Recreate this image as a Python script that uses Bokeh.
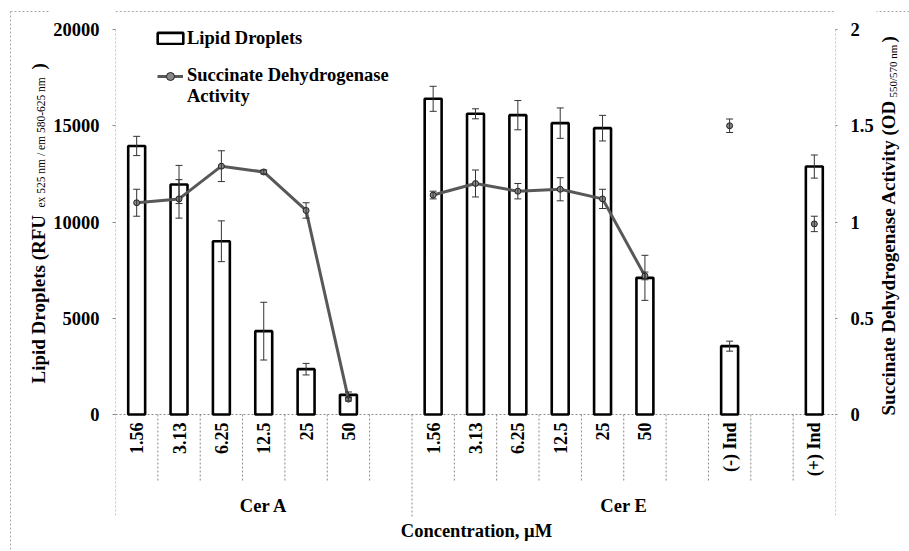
import math
import numpy as np
from bokeh.plotting import figure
from bokeh.layouts import row
from bokeh.core.properties import value
from bokeh.models import (FactorRange, Range1d, LinearAxis, FixedTicker, NumeralTickFormatter,
                          ColumnDataSource, Whisker, TeeHead, Legend, LegendItem, Label)
from bokeh.embed import file_html
from bokeh.resources import INLINE

# ---------------- data ----------------
groups = ["Cer A"] * 7 + ["Cer E"] * 10
conc = ["1.56", "3.13", "6.25", "12.5", "25", "50", "",
        "1.56", "3.13", "6.25", "12.5", "25", "50", "", "(-) Ind", " ", "(+) Ind"]
lipid = [13950, 11950, 9000, 4330, 2355, 1020, None,
         16400, 15620, 15550, 15135, 14875, 7100, None, 3550, None, 12880]
lipid_err = [500, 990, 1060, 1500, 300, 150, None,
             650, 260, 760, 790, 665, 1170, None, 260, None, 600]
sdh = [1.10, 1.12, 1.29, 1.26, 1.06, 0.08, None,
       1.14, 1.20, 1.16, 1.17, 1.12, 0.72, None, 1.50, None, 0.99]
sdh_err = [0.07, 0.10, 0.08, 0.01, 0.04, 0.01, None,
           0.02, 0.07, 0.04, 0.06, 0.05, 0.02, None, 0.035, None, 0.04]
left_ticks = [0, 5000, 10000, 15000, 20000]
right_ticks = [0, 0.5, 1, 1.5, 2]
group_names = ["Cer A", "Cer E"]
x_title = "Concentration, µM"
left_title = ["Lipid Droplets (RFU", "ex 525 nm / em 580-625 nm", ")"]
right_title = ["Succinate Dehydrogenase Activity (OD", "550/570 nm", ")"]

factors = list(zip(groups, conc))

# ---------------- layout constants (pixels) ----------------
FONT = "Liberation Serif"
W, H = 909, 551
LW, RW = 50, 33                 # side panels holding the axis titles
FL, FR, FT, FB = 115, 837, 29, 414   # plotting area edges (page pixels)
PX = (left_ticks[-1] - left_ticks[0]) / (FB - FT)   # left-axis units per pixel
K = right_ticks[-1] / left_ticks[-1]
DOT = "#8a8a8a"
BORDER_Y = 11
BORDER_X = 10

def ypx(py):
    """left-axis data value at page pixel row py"""
    return (FB - py) * PX

# ---------------- main figure ----------------
x_range = FactorRange(*factors, factor_padding=0, group_padding=0,
                      subgroup_padding=0, range_padding=0)
p = figure(x_range=x_range, y_range=Range1d(ypx(H), ypx(0)),
           width=W - LW - RW, height=H, output_backend="svg", toolbar_location=None,
           x_axis_location=None, min_border_left=FL - LW,
           min_border_right=W - RW - FR, min_border_top=0, min_border_bottom=0)
p.extra_y_ranges = {"sdh": Range1d(ypx(H) * K, ypx(0) * K)}
p.grid.visible = False
p.outline_line_color = None
p.background_fill_color = "white"
p.border_fill_color = "white"

# frame lines: axis lines, category separators, outer border
n = len(factors)
group_edges = [0] + [i for i in range(1, n) if groups[i] != groups[i - 1]] + [n]
short_edges = [i for i in range(1, n) if i not in group_edges]
p.segment(x0=[0, n], y0=[ypx(FT)] * 2, x1=[0, n], y1=[ypx(FB + 103)] * 2,
          line_color=DOT, line_width=1, line_dash="2 2")
p.segment(x0=group_edges[1:-1], y0=[0] * (len(group_edges) - 2), x1=group_edges[1:-1],
          y1=[ypx(FB + 102)] * (len(group_edges) - 2), line_color=DOT, line_width=1,
          line_dash="2 2")
p.segment(x0=short_edges, y0=[0] * len(short_edges), x1=short_edges,
          y1=[ypx(FB + 68)] * len(short_edges), line_color=DOT, line_width=1,
          line_dash="2 2")
p.segment(x0=[0], y0=[0], x1=[n], y1=[0], line_color=DOT, line_width=1, line_dash="2 2")
p.segment(x0=[-5], y0=[ypx(BORDER_Y)], x1=[n + 5], y1=[ypx(BORDER_Y)],
          line_color="#aaaaaa", line_width=1, line_dash="2 2")

# ---------------- bars ----------------
bx = [f for f, v in zip(factors, lipid) if v is not None]
bt = [v for v in lipid if v is not None]
be = [e for e in lipid_err if e is not None]
bsrc = ColumnDataSource(dict(x=bx, top=bt,
                             lo=[t - e for t, e in zip(bt, be)],
                             hi=[t + e for t, e in zip(bt, be)]))
r_bar = p.vbar(x="x", top="top", width=0.40, source=bsrc, fill_color="white",
               line_color="black", line_width=2.6)

def whisk(src, yname=None):
    kw = {}
    if yname:
        kw["y_range_name"] = yname
    p.add_layout(Whisker(source=src, base="x", lower="lo", upper="hi",
                         line_color="#333333", line_width=1,
                         upper_head=TeeHead(size=7, line_color="#333333", line_width=1),
                         lower_head=TeeHead(size=7, line_color="#333333", line_width=1),
                         level="annotation", **kw))

whisk(bsrc)

# ---------------- SDH line ----------------
sy = np.array([np.nan if v is None else v for v in sdh], dtype=float)
lsrc = ColumnDataSource(dict(x=factors, y=sy))
r_line = p.line(x="x", y="y", source=lsrc, y_range_name="sdh",
                line_color="#585858", line_width=3)
px_ = [f for f, v in zip(factors, sdh) if v is not None]
py_ = [v for v in sdh if v is not None]
pe_ = [e for e in sdh_err if e is not None]
psrc = ColumnDataSource(dict(x=px_, y=py_,
                             lo=[v - e for v, e in zip(py_, pe_)],
                             hi=[v + e for v, e in zip(py_, pe_)]))
r_pts = p.scatter(x="x", y="y", source=psrc, y_range_name="sdh", marker="circle",
                  size=6, fill_color="#888888", line_color="#222222", line_width=1)
whisk(psrc, "sdh")

# ---------------- category labels (x axis) ----------------
lab_x = [f for f in factors if f[1].strip()]
p.text(x=lab_x, y=[0] * len(lab_x), text=[f[1] for f in lab_x], angle=math.pi / 2,
       y_offset=8, text_align="right", text_baseline="middle",
       text_font=value(FONT), text_font_style="bold", text_font_size="18px",
       text_color="black")
p.text(x=group_names, y=[0] * len(group_names), text=group_names, y_offset=91,
       text_align="center", text_baseline="middle", text_font=value(FONT),
       text_font_style="bold", text_font_size="18.5px", text_color="black")
p.add_layout(Label(x=(FL + FR) / 2 - LW, y=530, x_units="canvas", y_units="canvas",
                   text=x_title, text_align="center", text_baseline="middle",
                   text_font=FONT, text_font_style="bold", text_font_size="18.5px",
                   text_color="black"))

# ---------------- y axes ----------------
def style_y(ax, ticks, fmt, tick_out, standoff):
    ax.ticker = FixedTicker(ticks=ticks)
    ax.formatter = NumeralTickFormatter(format=fmt)
    ax.axis_line_color = None
    ax.major_tick_line_color = DOT
    ax.major_tick_out = tick_out
    ax.major_tick_in = 0
    ax.minor_tick_line_color = None
    ax.major_label_standoff = standoff
    ax.major_label_text_font = FONT
    ax.major_label_text_font_style = "bold"
    ax.major_label_text_font_size = "18.5px"
    ax.major_label_text_color = "black"

style_y(p.yaxis[0], left_ticks, "0", 3, 13)
ra = LinearAxis(y_range_name="sdh")
style_y(ra, right_ticks, "0.[0]", 2, 13)
p.add_layout(ra, "right")

# ---------------- legends ----------------
r_dummy = p.line(x=[], y=[], line_alpha=0)

def style_leg(lg):
    lg.label_text_font = FONT
    lg.label_text_font_style = "bold"
    lg.label_text_font_size = "18.5px"
    lg.label_text_color = "black"
    lg.border_line_color = None
    lg.background_fill_alpha = 0
    lg.padding = 0
    lg.margin = 0
    lg.spacing = 0

leg1 = Legend(items=[LegendItem(label="Lipid Droplets", renderers=[r_bar])],
              location=(157 - FL - 3, H - 49), glyph_width=32, glyph_height=14,
              label_height=22, label_standoff=1, label_width=130)
style_leg(leg1)
leg2 = Legend(items=[LegendItem(label="Succinate Dehydrogenase", renderers=[r_line, r_pts]),
                     LegendItem(label="Activity", renderers=[r_dummy])],
              location=(157 - FL, H - 107), glyph_width=26, glyph_height=20,
              label_height=21, label_standoff=4, label_width=215)
style_leg(leg2)
p.add_layout(leg1)
p.add_layout(leg2)

# ---------------- side panels with the axis titles ----------------
def side(x0, x1):
    f = figure(width=x1 - x0, height=H, x_range=Range1d(x0, x1), y_range=Range1d(H, 0),
               output_backend="svg", toolbar_location=None, x_axis_type=None,
               y_axis_type=None, min_border=0)
    f.grid.visible = False
    f.outline_line_color = None
    f.background_fill_color = "white"
    f.border_fill_color = "white"
    return f

def tlab(f, x, y, text, size, style="bold"):
    f.add_layout(Label(x=x, y=y, text=text, angle=math.pi / 2, text_align="left",
                       text_baseline="middle", text_font=FONT, text_font_style=style,
                       text_font_size=size, text_color="black"))

pl = side(0, LW)
pl.segment(x0=[BORDER_X, BORDER_X], y0=[BORDER_Y, BORDER_Y], x1=[LW + 5, BORDER_X],
           y1=[BORDER_Y, H + 5], line_color="#aaaaaa", line_width=1, line_dash="2 2")
tlab(pl, 38, 383, left_title[0], "19px")
tlab(pl, 40, 207, left_title[1], "11.5px", "normal")
tlab(pl, 38, 69, left_title[2], "19px")

pr = side(W - RW, W)
pr.segment(x0=[W - RW - 5], y0=[BORDER_Y], x1=[W + 5], y1=[BORDER_Y],
           line_color="#aaaaaa", line_width=1, line_dash="2 2")
tlab(pr, 888, 415, right_title[0], "19px")
tlab(pr, 892, 97, right_title[1], "11px", "normal")
tlab(pr, 888, 42, right_title[2], "19px")

layout = row(pl, p, pr, spacing=0)
open("out.html", "w").write(file_html(layout, INLINE))
